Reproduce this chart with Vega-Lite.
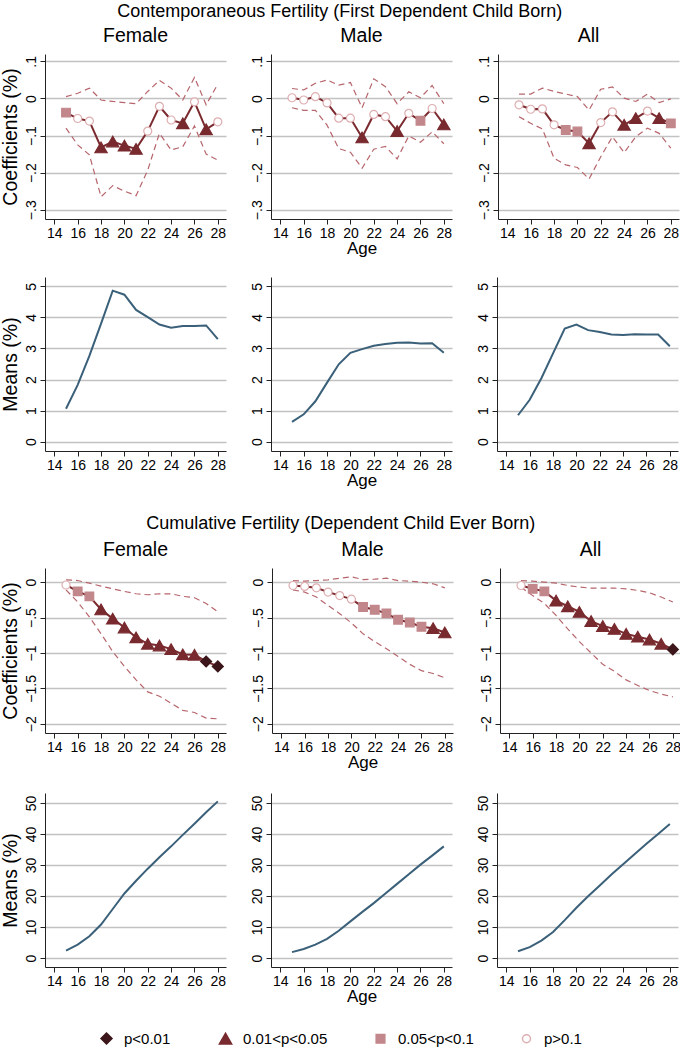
{
  "$schema": "https://vega.github.io/schema/vega-lite/v6.json",
  "padding": {"left": 0, "top": 2, "right": 0, "bottom": 0},
  "datasets": {
    "coef": [
      {"s":"c","g":"F","a":15,"b":-0.038,"lo":-0.080,"hi":0.005,"p":"0.05<p<0.1"},
      {"s":"c","g":"F","a":16,"b":-0.054,"lo":-0.125,"hi":0.014,"p":"p>0.1"},
      {"s":"c","g":"F","a":17,"b":-0.061,"lo":-0.152,"hi":0.028,"p":"p>0.1"},
      {"s":"c","g":"F","a":18,"b":-0.132,"lo":-0.265,"hi":-0.004,"p":"0.01<p<0.05"},
      {"s":"c","g":"F","a":19,"b":-0.116,"lo":-0.235,"hi":-0.008,"p":"0.01<p<0.05"},
      {"s":"c","g":"F","a":20,"b":-0.127,"lo":-0.250,"hi":-0.011,"p":"0.01<p<0.05"},
      {"s":"c","g":"F","a":21,"b":-0.136,"lo":-0.262,"hi":-0.014,"p":"0.01<p<0.05"},
      {"s":"c","g":"F","a":22,"b":-0.088,"lo":-0.193,"hi":0.019,"p":"p>0.1"},
      {"s":"c","g":"F","a":23,"b":-0.021,"lo":-0.094,"hi":0.049,"p":"p>0.1"},
      {"s":"c","g":"F","a":24,"b":-0.058,"lo":-0.139,"hi":0.028,"p":"p>0.1"},
      {"s":"c","g":"F","a":25,"b":-0.067,"lo":-0.130,"hi":-0.004,"p":"0.01<p<0.05"},
      {"s":"c","g":"F","a":26,"b":-0.009,"lo":-0.074,"hi":0.057,"p":"p>0.1"},
      {"s":"c","g":"F","a":27,"b":-0.083,"lo":-0.150,"hi":-0.017,"p":"0.01<p<0.05"},
      {"s":"c","g":"F","a":28,"b":-0.063,"lo":-0.166,"hi":0.039,"p":"p>0.1"},
      {"s":"c","g":"M","a":15,"b":0.002,"lo":-0.025,"hi":0.027,"p":"p>0.1"},
      {"s":"c","g":"M","a":16,"b":-0.004,"lo":-0.032,"hi":0.023,"p":"p>0.1"},
      {"s":"c","g":"M","a":17,"b":0.005,"lo":-0.032,"hi":0.041,"p":"p>0.1"},
      {"s":"c","g":"M","a":18,"b":-0.012,"lo":-0.072,"hi":0.050,"p":"p>0.1"},
      {"s":"c","g":"M","a":19,"b":-0.053,"lo":-0.135,"hi":0.036,"p":"p>0.1"},
      {"s":"c","g":"M","a":20,"b":-0.053,"lo":-0.145,"hi":0.043,"p":"p>0.1"},
      {"s":"c","g":"M","a":21,"b":-0.105,"lo":-0.188,"hi":-0.025,"p":"0.01<p<0.05"},
      {"s":"c","g":"M","a":22,"b":-0.043,"lo":-0.137,"hi":0.053,"p":"p>0.1"},
      {"s":"c","g":"M","a":23,"b":-0.049,"lo":-0.129,"hi":0.032,"p":"p>0.1"},
      {"s":"c","g":"M","a":24,"b":-0.088,"lo":-0.163,"hi":-0.014,"p":"0.01<p<0.05"},
      {"s":"c","g":"M","a":25,"b":-0.040,"lo":-0.101,"hi":0.018,"p":"p>0.1"},
      {"s":"c","g":"M","a":26,"b":-0.060,"lo":-0.118,"hi":0.002,"p":"0.05<p<0.1"},
      {"s":"c","g":"M","a":27,"b":-0.027,"lo":-0.090,"hi":0.035,"p":"p>0.1"},
      {"s":"c","g":"M","a":28,"b":-0.070,"lo":-0.122,"hi":-0.014,"p":"0.01<p<0.05"},
      {"s":"c","g":"A","a":15,"b":-0.017,"lo":-0.049,"hi":0.012,"p":"p>0.1"},
      {"s":"c","g":"A","a":16,"b":-0.029,"lo":-0.067,"hi":0.012,"p":"p>0.1"},
      {"s":"c","g":"A","a":17,"b":-0.028,"lo":-0.082,"hi":0.028,"p":"p>0.1"},
      {"s":"c","g":"A","a":18,"b":-0.071,"lo":-0.161,"hi":0.019,"p":"p>0.1"},
      {"s":"c","g":"A","a":19,"b":-0.085,"lo":-0.179,"hi":0.012,"p":"0.05<p<0.1"},
      {"s":"c","g":"A","a":20,"b":-0.089,"lo":-0.186,"hi":0.005,"p":"0.05<p<0.1"},
      {"s":"c","g":"A","a":21,"b":-0.121,"lo":-0.217,"hi":-0.031,"p":"0.01<p<0.05"},
      {"s":"c","g":"A","a":22,"b":-0.065,"lo":-0.157,"hi":0.025,"p":"p>0.1"},
      {"s":"c","g":"A","a":23,"b":-0.036,"lo":-0.103,"hi":0.031,"p":"p>0.1"},
      {"s":"c","g":"A","a":24,"b":-0.071,"lo":-0.146,"hi":0.001,"p":"0.01<p<0.05"},
      {"s":"c","g":"A","a":25,"b":-0.053,"lo":-0.103,"hi":-0.008,"p":"0.01<p<0.05"},
      {"s":"c","g":"A","a":26,"b":-0.034,"lo":-0.080,"hi":0.012,"p":"p>0.1"},
      {"s":"c","g":"A","a":27,"b":-0.053,"lo":-0.094,"hi":-0.011,"p":"0.01<p<0.05"},
      {"s":"c","g":"A","a":28,"b":-0.067,"lo":-0.134,"hi":-0.001,"p":"0.05<p<0.1"},
      {"s":"k","g":"F","a":15,"b":-0.04,"lo":-0.11,"hi":0.033,"p":"p>0.1"},
      {"s":"k","g":"F","a":16,"b":-0.13,"lo":-0.28,"hi":0.023,"p":"0.05<p<0.1"},
      {"s":"k","g":"F","a":17,"b":-0.20,"lo":-0.49,"hi":-0.014,"p":"0.05<p<0.1"},
      {"s":"k","g":"F","a":18,"b":-0.385,"lo":-0.73,"hi":-0.056,"p":"0.01<p<0.05"},
      {"s":"k","g":"F","a":19,"b":-0.515,"lo":-0.98,"hi":-0.094,"p":"0.01<p<0.05"},
      {"s":"k","g":"F","a":20,"b":-0.64,"lo":-1.19,"hi":-0.131,"p":"0.01<p<0.05"},
      {"s":"k","g":"F","a":21,"b":-0.78,"lo":-1.38,"hi":-0.164,"p":"0.01<p<0.05"},
      {"s":"k","g":"F","a":22,"b":-0.87,"lo":-1.55,"hi":-0.178,"p":"0.01<p<0.05"},
      {"s":"k","g":"F","a":23,"b":-0.895,"lo":-1.61,"hi":-0.164,"p":"0.01<p<0.05"},
      {"s":"k","g":"F","a":24,"b":-0.946,"lo":-1.71,"hi":-0.164,"p":"0.01<p<0.05"},
      {"s":"k","g":"F","a":25,"b":-1.02,"lo":-1.81,"hi":-0.20,"p":"0.01<p<0.05"},
      {"s":"k","g":"F","a":26,"b":-1.025,"lo":-1.84,"hi":-0.22,"p":"0.01<p<0.05"},
      {"s":"k","g":"F","a":27,"b":-1.12,"lo":-1.92,"hi":-0.30,"p":"p<0.01"},
      {"s":"k","g":"F","a":28,"b":-1.19,"lo":-1.93,"hi":-0.42,"p":"p<0.01"},
      {"s":"k","g":"M","a":15,"b":-0.047,"lo":-0.11,"hi":0.023,"p":"p>0.1"},
      {"s":"k","g":"M","a":16,"b":-0.06,"lo":-0.14,"hi":0.014,"p":"p>0.1"},
      {"s":"k","g":"M","a":17,"b":-0.08,"lo":-0.21,"hi":0.023,"p":"p>0.1"},
      {"s":"k","g":"M","a":18,"b":-0.14,"lo":-0.33,"hi":0.033,"p":"p>0.1"},
      {"s":"k","g":"M","a":19,"b":-0.19,"lo":-0.445,"hi":0.056,"p":"p>0.1"},
      {"s":"k","g":"M","a":20,"b":-0.24,"lo":-0.576,"hi":0.075,"p":"p>0.1"},
      {"s":"k","g":"M","a":21,"b":-0.35,"lo":-0.73,"hi":0.037,"p":"0.05<p<0.1"},
      {"s":"k","g":"M","a":22,"b":-0.39,"lo":-0.84,"hi":0.042,"p":"0.05<p<0.1"},
      {"s":"k","g":"M","a":23,"b":-0.44,"lo":-0.94,"hi":0.056,"p":"0.05<p<0.1"},
      {"s":"k","g":"M","a":24,"b":-0.53,"lo":-1.05,"hi":0.023,"p":"0.05<p<0.1"},
      {"s":"k","g":"M","a":25,"b":-0.57,"lo":-1.16,"hi":0.014,"p":"0.05<p<0.1"},
      {"s":"k","g":"M","a":26,"b":-0.63,"lo":-1.25,"hi":0.0,"p":"0.05<p<0.1"},
      {"s":"k","g":"M","a":27,"b":-0.65,"lo":-1.29,"hi":-0.023,"p":"0.01<p<0.05"},
      {"s":"k","g":"M","a":28,"b":-0.71,"lo":-1.35,"hi":-0.08,"p":"0.01<p<0.05"},
      {"s":"k","g":"A","a":15,"b":-0.047,"lo":-0.07,"hi":0.023,"p":"p>0.1"},
      {"s":"k","g":"A","a":16,"b":-0.094,"lo":-0.19,"hi":0.014,"p":"0.05<p<0.1"},
      {"s":"k","g":"A","a":17,"b":-0.13,"lo":-0.30,"hi":0.0,"p":"0.05<p<0.1"},
      {"s":"k","g":"A","a":18,"b":-0.26,"lo":-0.47,"hi":-0.014,"p":"0.01<p<0.05"},
      {"s":"k","g":"A","a":19,"b":-0.34,"lo":-0.66,"hi":-0.047,"p":"0.01<p<0.05"},
      {"s":"k","g":"A","a":20,"b":-0.42,"lo":-0.84,"hi":-0.07,"p":"0.01<p<0.05"},
      {"s":"k","g":"A","a":21,"b":-0.55,"lo":-1.0,"hi":-0.084,"p":"0.01<p<0.05"},
      {"s":"k","g":"A","a":22,"b":-0.62,"lo":-1.16,"hi":-0.084,"p":"0.01<p<0.05"},
      {"s":"k","g":"A","a":23,"b":-0.66,"lo":-1.26,"hi":-0.084,"p":"0.01<p<0.05"},
      {"s":"k","g":"A","a":24,"b":-0.73,"lo":-1.38,"hi":-0.094,"p":"0.01<p<0.05"},
      {"s":"k","g":"A","a":25,"b":-0.77,"lo":-1.46,"hi":-0.117,"p":"0.01<p<0.05"},
      {"s":"k","g":"A","a":26,"b":-0.81,"lo":-1.53,"hi":-0.15,"p":"0.01<p<0.05"},
      {"s":"k","g":"A","a":27,"b":-0.87,"lo":-1.58,"hi":-0.21,"p":"0.01<p<0.05"},
      {"s":"k","g":"A","a":28,"b":-0.95,"lo":-1.62,"hi":-0.28,"p":"p<0.01"}
    ],
    "means": [
      {"s":"c","g":"F","a":15,"m":1.06},{"s":"c","g":"F","a":16,"m":1.83},{"s":"c","g":"F","a":17,"m":2.76},{"s":"c","g":"F","a":18,"m":3.80},{"s":"c","g":"F","a":19,"m":4.86},{"s":"c","g":"F","a":20,"m":4.73},{"s":"c","g":"F","a":21,"m":4.24},{"s":"c","g":"F","a":22,"m":4.01},{"s":"c","g":"F","a":23,"m":3.77},{"s":"c","g":"F","a":24,"m":3.67},{"s":"c","g":"F","a":25,"m":3.72},{"s":"c","g":"F","a":26,"m":3.72},{"s":"c","g":"F","a":27,"m":3.74},{"s":"c","g":"F","a":28,"m":3.30},
      {"s":"c","g":"M","a":15,"m":0.64},{"s":"c","g":"M","a":16,"m":0.88},{"s":"c","g":"M","a":17,"m":1.30},{"s":"c","g":"M","a":18,"m":1.90},{"s":"c","g":"M","a":19,"m":2.49},{"s":"c","g":"M","a":20,"m":2.86},{"s":"c","g":"M","a":21,"m":2.98},{"s":"c","g":"M","a":22,"m":3.09},{"s":"c","g":"M","a":23,"m":3.14},{"s":"c","g":"M","a":24,"m":3.18},{"s":"c","g":"M","a":25,"m":3.19},{"s":"c","g":"M","a":26,"m":3.16},{"s":"c","g":"M","a":27,"m":3.17},{"s":"c","g":"M","a":28,"m":2.86},
      {"s":"c","g":"A","a":15,"m":0.85},{"s":"c","g":"A","a":16,"m":1.35},{"s":"c","g":"A","a":17,"m":2.04},{"s":"c","g":"A","a":18,"m":2.84},{"s":"c","g":"A","a":19,"m":3.64},{"s":"c","g":"A","a":20,"m":3.77},{"s":"c","g":"A","a":21,"m":3.59},{"s":"c","g":"A","a":22,"m":3.53},{"s":"c","g":"A","a":23,"m":3.45},{"s":"c","g":"A","a":24,"m":3.43},{"s":"c","g":"A","a":25,"m":3.46},{"s":"c","g":"A","a":26,"m":3.45},{"s":"c","g":"A","a":27,"m":3.45},{"s":"c","g":"A","a":28,"m":3.07},
      {"s":"k","g":"F","a":15,"m":2.4},{"s":"k","g":"F","a":16,"m":4.3},{"s":"k","g":"F","a":17,"m":7.0},{"s":"k","g":"F","a":18,"m":10.8},{"s":"k","g":"F","a":19,"m":15.8},{"s":"k","g":"F","a":20,"m":20.8},{"s":"k","g":"F","a":21,"m":24.9},{"s":"k","g":"F","a":22,"m":28.8},{"s":"k","g":"F","a":23,"m":32.5},{"s":"k","g":"F","a":24,"m":36.0},{"s":"k","g":"F","a":25,"m":39.7},{"s":"k","g":"F","a":26,"m":43.3},{"s":"k","g":"F","a":27,"m":47.0},{"s":"k","g":"F","a":28,"m":50.5},
      {"s":"k","g":"M","a":15,"m":1.9},{"s":"k","g":"M","a":16,"m":2.9},{"s":"k","g":"M","a":17,"m":4.3},{"s":"k","g":"M","a":18,"m":6.2},{"s":"k","g":"M","a":19,"m":8.8},{"s":"k","g":"M","a":20,"m":11.8},{"s":"k","g":"M","a":21,"m":14.8},{"s":"k","g":"M","a":22,"m":17.7},{"s":"k","g":"M","a":23,"m":20.8},{"s":"k","g":"M","a":24,"m":23.9},{"s":"k","g":"M","a":25,"m":27.0},{"s":"k","g":"M","a":26,"m":30.1},{"s":"k","g":"M","a":27,"m":33.0},{"s":"k","g":"M","a":28,"m":36.0},
      {"s":"k","g":"A","a":15,"m":2.2},{"s":"k","g":"A","a":16,"m":3.5},{"s":"k","g":"A","a":17,"m":5.6},{"s":"k","g":"A","a":18,"m":8.4},{"s":"k","g":"A","a":19,"m":12.2},{"s":"k","g":"A","a":20,"m":16.2},{"s":"k","g":"A","a":21,"m":19.9},{"s":"k","g":"A","a":22,"m":23.4},{"s":"k","g":"A","a":23,"m":26.9},{"s":"k","g":"A","a":24,"m":30.2},{"s":"k","g":"A","a":25,"m":33.5},{"s":"k","g":"A","a":26,"m":36.8},{"s":"k","g":"A","a":27,"m":40.0},{"s":"k","g":"A","a":28,"m":43.2}
    ]
  },
  "vconcat": [
    {
      "title": {"text": "Contemporaneous Fertility (First Dependent Child Born)", "fontSize": 18, "offset": 5},
      "spacing": 21,
      "vconcat": [
        {
          "spacing": 24,
          "hconcat": [
            {
              "width": 181, "height": 165, "title": "Female",
              "data": {"name": "coef"},
              "transform": [{"filter": "datum.s=='c'&&datum.g=='F'"}],
              "encoding": {"x": {"field": "a", "type": "quantitative", "title": null, "scale": {"domain": [13.2, 28.7], "nice": false, "zero": false}}},
              "layer": [
                {"mark": {"type": "line", "color": "#b6666c", "strokeWidth": 1.2, "strokeDash": [6, 4]}, "encoding": {"y": {"field": "lo", "type": "quantitative", "title": "Coefficients (%)", "scale": {"domain": [-0.325, 0.12], "nice": false, "zero": false}, "axis": {"values": [-0.3, -0.2, -0.1, 0, 0.1], "labelExpr": "replace(format(datum.value,'~g'),'0.','.')"}}}},
                {"mark": {"type": "line", "color": "#b6666c", "strokeWidth": 1.2, "strokeDash": [6, 4]}, "encoding": {"y": {"field": "hi", "type": "quantitative", "title": "Coefficients (%)"}}},
                {"mark": {"type": "line", "color": "#7b2a2f", "strokeWidth": 2}, "encoding": {"y": {"field": "b", "type": "quantitative", "title": "Coefficients (%)"}}},
                {"mark": {"type": "point", "opacity": 1, "strokeWidth": 1.2}, "encoding": {
                  "y": {"field": "b", "type": "quantitative", "title": "Coefficients (%)"},
                  "shape": {"field": "p", "type": "ordinal", "title": null, "scale": {"domain": ["p<0.01","0.01<p<0.05","0.05<p<0.1","p>0.1"], "range": ["diamond","triangle-up","square","circle"]}},
                  "fill": {"field": "p", "type": "ordinal", "title": null, "scale": {"domain": ["p<0.01","0.01<p<0.05","0.05<p<0.1","p>0.1"], "range": ["#3c161a","#782a2e","#c2878b","#ffffff"]}},
                  "stroke": {"field": "p", "type": "ordinal", "title": null, "scale": {"domain": ["p<0.01","0.01<p<0.05","0.05<p<0.1","p>0.1"], "range": ["#3c161a","#782a2e","#c2878b","#deaeb1"]}},
                  "size": {"field": "p", "type": "ordinal", "title": null, "scale": {"type": "ordinal", "domain": ["p<0.01","0.01<p<0.05","0.05<p<0.1","p>0.1"], "range": [121, 150, 75, 64]}}
                }}
              ]
            },
            {
              "width": 181, "height": 165, "title": "Male",
              "data": {"name": "coef"},
              "transform": [{"filter": "datum.s=='c'&&datum.g=='M'"}],
              "encoding": {"x": {"field": "a", "type": "quantitative", "title": "Age", "scale": {"domain": [13.2, 28.7], "nice": false, "zero": false}}},
              "layer": [
                {"mark": {"type": "line", "color": "#b6666c", "strokeWidth": 1.2, "strokeDash": [6, 4]}, "encoding": {"y": {"field": "lo", "type": "quantitative", "title": null, "scale": {"domain": [-0.325, 0.12], "nice": false, "zero": false}, "axis": {"values": [-0.3, -0.2, -0.1, 0, 0.1], "labelExpr": "replace(format(datum.value,'~g'),'0.','.')"}}}},
                {"mark": {"type": "line", "color": "#b6666c", "strokeWidth": 1.2, "strokeDash": [6, 4]}, "encoding": {"y": {"field": "hi", "type": "quantitative", "title": null}}},
                {"mark": {"type": "line", "color": "#7b2a2f", "strokeWidth": 2}, "encoding": {"y": {"field": "b", "type": "quantitative", "title": null}}},
                {"mark": {"type": "point", "opacity": 1, "strokeWidth": 1.2}, "encoding": {
                  "y": {"field": "b", "type": "quantitative", "title": null},
                  "shape": {"field": "p", "type": "ordinal", "title": null, "scale": {"domain": ["p<0.01","0.01<p<0.05","0.05<p<0.1","p>0.1"], "range": ["diamond","triangle-up","square","circle"]}},
                  "fill": {"field": "p", "type": "ordinal", "title": null, "scale": {"domain": ["p<0.01","0.01<p<0.05","0.05<p<0.1","p>0.1"], "range": ["#3c161a","#782a2e","#c2878b","#ffffff"]}},
                  "stroke": {"field": "p", "type": "ordinal", "title": null, "scale": {"domain": ["p<0.01","0.01<p<0.05","0.05<p<0.1","p>0.1"], "range": ["#3c161a","#782a2e","#c2878b","#deaeb1"]}},
                  "size": {"field": "p", "type": "ordinal", "title": null, "scale": {"type": "ordinal", "domain": ["p<0.01","0.01<p<0.05","0.05<p<0.1","p>0.1"], "range": [121, 150, 75, 64]}}
                }}
              ]
            },
            {
              "width": 181, "height": 165, "title": "All",
              "data": {"name": "coef"},
              "transform": [{"filter": "datum.s=='c'&&datum.g=='A'"}],
              "encoding": {"x": {"field": "a", "type": "quantitative", "title": null, "scale": {"domain": [13.2, 28.7], "nice": false, "zero": false}}},
              "layer": [
                {"mark": {"type": "line", "color": "#b6666c", "strokeWidth": 1.2, "strokeDash": [6, 4]}, "encoding": {"y": {"field": "lo", "type": "quantitative", "title": null, "scale": {"domain": [-0.325, 0.12], "nice": false, "zero": false}, "axis": {"values": [-0.3, -0.2, -0.1, 0, 0.1], "labelExpr": "replace(format(datum.value,'~g'),'0.','.')"}}}},
                {"mark": {"type": "line", "color": "#b6666c", "strokeWidth": 1.2, "strokeDash": [6, 4]}, "encoding": {"y": {"field": "hi", "type": "quantitative", "title": null}}},
                {"mark": {"type": "line", "color": "#7b2a2f", "strokeWidth": 2}, "encoding": {"y": {"field": "b", "type": "quantitative", "title": null}}},
                {"mark": {"type": "point", "opacity": 1, "strokeWidth": 1.2}, "encoding": {
                  "y": {"field": "b", "type": "quantitative", "title": null},
                  "shape": {"field": "p", "type": "ordinal", "title": null, "scale": {"domain": ["p<0.01","0.01<p<0.05","0.05<p<0.1","p>0.1"], "range": ["diamond","triangle-up","square","circle"]}},
                  "fill": {"field": "p", "type": "ordinal", "title": null, "scale": {"domain": ["p<0.01","0.01<p<0.05","0.05<p<0.1","p>0.1"], "range": ["#3c161a","#782a2e","#c2878b","#ffffff"]}},
                  "stroke": {"field": "p", "type": "ordinal", "title": null, "scale": {"domain": ["p<0.01","0.01<p<0.05","0.05<p<0.1","p>0.1"], "range": ["#3c161a","#782a2e","#c2878b","#deaeb1"]}},
                  "size": {"field": "p", "type": "ordinal", "title": null, "scale": {"type": "ordinal", "domain": ["p<0.01","0.01<p<0.05","0.05<p<0.1","p>0.1"], "range": [121, 150, 75, 64]}}
                }}
              ]
            }
          ]
        },
        {
          "spacing": 24,
          "hconcat": [
            {
              "width": 181, "height": 174,
              "data": {"name": "means"},
              "transform": [{"filter": "datum.s=='c'&&datum.g=='F'"}],
              "mark": {"type": "line", "color": "#3b6079", "strokeWidth": 2},
              "encoding": {
                "x": {"field": "a", "type": "quantitative", "title": null, "scale": {"domain": [13.2, 28.7], "nice": false, "zero": false}},
                "y": {"field": "m", "type": "quantitative", "title": "Means (%)", "scale": {"domain": [-0.3, 5.3], "nice": false, "zero": false}, "axis": {"values": [0, 1, 2, 3, 4, 5]}}
              }
            },
            {
              "width": 181, "height": 174,
              "data": {"name": "means"},
              "transform": [{"filter": "datum.s=='c'&&datum.g=='M'"}],
              "mark": {"type": "line", "color": "#3b6079", "strokeWidth": 2},
              "encoding": {
                "x": {"field": "a", "type": "quantitative", "title": "Age", "scale": {"domain": [13.2, 28.7], "nice": false, "zero": false}},
                "y": {"field": "m", "type": "quantitative", "title": null, "scale": {"domain": [-0.3, 5.3], "nice": false, "zero": false}, "axis": {"values": [0, 1, 2, 3, 4, 5]}}
              }
            },
            {
              "width": 181, "height": 174,
              "data": {"name": "means"},
              "transform": [{"filter": "datum.s=='c'&&datum.g=='A'"}],
              "mark": {"type": "line", "color": "#3b6079", "strokeWidth": 2},
              "encoding": {
                "x": {"field": "a", "type": "quantitative", "title": null, "scale": {"domain": [13.2, 28.7], "nice": false, "zero": false}},
                "y": {"field": "m", "type": "quantitative", "title": null, "scale": {"domain": [-0.3, 5.3], "nice": false, "zero": false}, "axis": {"values": [0, 1, 2, 3, 4, 5]}}
              }
            }
          ]
        }
      ]
    },
    {
      "title": {"text": "Cumulative Fertility (Dependent Child Ever Born)", "fontSize": 18, "offset": 7},
      "spacing": 23,
      "vconcat": [
        {
          "spacing": 24,
          "hconcat": [
            {
              "width": 181, "height": 165, "title": "Female",
              "data": {"name": "coef"},
              "transform": [{"filter": "datum.s=='k'&&datum.g=='F'"}],
              "encoding": {"x": {"field": "a", "type": "quantitative", "title": null, "scale": {"domain": [13.2, 28.7], "nice": false, "zero": false}}},
              "layer": [
                {"mark": {"type": "line", "color": "#b6666c", "strokeWidth": 1.2, "strokeDash": [6, 4]}, "encoding": {"y": {"field": "lo", "type": "quantitative", "title": "Coefficients (%)", "scale": {"domain": [-2.13, 0.2], "nice": false, "zero": false}, "axis": {"values": [-2, -1.5, -1, -0.5, 0], "labelExpr": "replace(format(datum.value,'~g'),'0.','.')"}}}},
                {"mark": {"type": "line", "color": "#b6666c", "strokeWidth": 1.2, "strokeDash": [6, 4]}, "encoding": {"y": {"field": "hi", "type": "quantitative", "title": "Coefficients (%)"}}},
                {"mark": {"type": "line", "color": "#7b2a2f", "strokeWidth": 2}, "encoding": {"y": {"field": "b", "type": "quantitative", "title": "Coefficients (%)"}}},
                {"mark": {"type": "point", "opacity": 1, "strokeWidth": 1.2}, "encoding": {
                  "y": {"field": "b", "type": "quantitative", "title": "Coefficients (%)"},
                  "shape": {"field": "p", "type": "ordinal", "title": null, "scale": {"domain": ["p<0.01","0.01<p<0.05","0.05<p<0.1","p>0.1"], "range": ["diamond","triangle-up","square","circle"]}},
                  "fill": {"field": "p", "type": "ordinal", "title": null, "scale": {"domain": ["p<0.01","0.01<p<0.05","0.05<p<0.1","p>0.1"], "range": ["#3c161a","#782a2e","#c2878b","#ffffff"]}},
                  "stroke": {"field": "p", "type": "ordinal", "title": null, "scale": {"domain": ["p<0.01","0.01<p<0.05","0.05<p<0.1","p>0.1"], "range": ["#3c161a","#782a2e","#c2878b","#deaeb1"]}},
                  "size": {"field": "p", "type": "ordinal", "title": null, "scale": {"type": "ordinal", "domain": ["p<0.01","0.01<p<0.05","0.05<p<0.1","p>0.1"], "range": [121, 150, 75, 64]}}
                }}
              ]
            },
            {
              "width": 181, "height": 165, "title": "Male",
              "data": {"name": "coef"},
              "transform": [{"filter": "datum.s=='k'&&datum.g=='M'"}],
              "encoding": {"x": {"field": "a", "type": "quantitative", "title": "Age", "scale": {"domain": [13.2, 28.7], "nice": false, "zero": false}}},
              "layer": [
                {"mark": {"type": "line", "color": "#b6666c", "strokeWidth": 1.2, "strokeDash": [6, 4]}, "encoding": {"y": {"field": "lo", "type": "quantitative", "title": null, "scale": {"domain": [-2.13, 0.2], "nice": false, "zero": false}, "axis": {"values": [-2, -1.5, -1, -0.5, 0], "labelExpr": "replace(format(datum.value,'~g'),'0.','.')"}}}},
                {"mark": {"type": "line", "color": "#b6666c", "strokeWidth": 1.2, "strokeDash": [6, 4]}, "encoding": {"y": {"field": "hi", "type": "quantitative", "title": null}}},
                {"mark": {"type": "line", "color": "#7b2a2f", "strokeWidth": 2}, "encoding": {"y": {"field": "b", "type": "quantitative", "title": null}}},
                {"mark": {"type": "point", "opacity": 1, "strokeWidth": 1.2}, "encoding": {
                  "y": {"field": "b", "type": "quantitative", "title": null},
                  "shape": {"field": "p", "type": "ordinal", "title": null, "scale": {"domain": ["p<0.01","0.01<p<0.05","0.05<p<0.1","p>0.1"], "range": ["diamond","triangle-up","square","circle"]}},
                  "fill": {"field": "p", "type": "ordinal", "title": null, "scale": {"domain": ["p<0.01","0.01<p<0.05","0.05<p<0.1","p>0.1"], "range": ["#3c161a","#782a2e","#c2878b","#ffffff"]}},
                  "stroke": {"field": "p", "type": "ordinal", "title": null, "scale": {"domain": ["p<0.01","0.01<p<0.05","0.05<p<0.1","p>0.1"], "range": ["#3c161a","#782a2e","#c2878b","#deaeb1"]}},
                  "size": {"field": "p", "type": "ordinal", "title": null, "scale": {"type": "ordinal", "domain": ["p<0.01","0.01<p<0.05","0.05<p<0.1","p>0.1"], "range": [121, 150, 75, 64]}}
                }}
              ]
            },
            {
              "width": 181, "height": 165, "title": "All",
              "data": {"name": "coef"},
              "transform": [{"filter": "datum.s=='k'&&datum.g=='A'"}],
              "encoding": {"x": {"field": "a", "type": "quantitative", "title": null, "scale": {"domain": [13.2, 28.7], "nice": false, "zero": false}}},
              "layer": [
                {"mark": {"type": "line", "color": "#b6666c", "strokeWidth": 1.2, "strokeDash": [6, 4]}, "encoding": {"y": {"field": "lo", "type": "quantitative", "title": null, "scale": {"domain": [-2.13, 0.2], "nice": false, "zero": false}, "axis": {"values": [-2, -1.5, -1, -0.5, 0], "labelExpr": "replace(format(datum.value,'~g'),'0.','.')"}}}},
                {"mark": {"type": "line", "color": "#b6666c", "strokeWidth": 1.2, "strokeDash": [6, 4]}, "encoding": {"y": {"field": "hi", "type": "quantitative", "title": null}}},
                {"mark": {"type": "line", "color": "#7b2a2f", "strokeWidth": 2}, "encoding": {"y": {"field": "b", "type": "quantitative", "title": null}}},
                {"mark": {"type": "point", "opacity": 1, "strokeWidth": 1.2}, "encoding": {
                  "y": {"field": "b", "type": "quantitative", "title": null},
                  "shape": {"field": "p", "type": "ordinal", "title": null, "scale": {"domain": ["p<0.01","0.01<p<0.05","0.05<p<0.1","p>0.1"], "range": ["diamond","triangle-up","square","circle"]}},
                  "fill": {"field": "p", "type": "ordinal", "title": null, "scale": {"domain": ["p<0.01","0.01<p<0.05","0.05<p<0.1","p>0.1"], "range": ["#3c161a","#782a2e","#c2878b","#ffffff"]}},
                  "stroke": {"field": "p", "type": "ordinal", "title": null, "scale": {"domain": ["p<0.01","0.01<p<0.05","0.05<p<0.1","p>0.1"], "range": ["#3c161a","#782a2e","#c2878b","#deaeb1"]}},
                  "size": {"field": "p", "type": "ordinal", "title": null, "scale": {"type": "ordinal", "domain": ["p<0.01","0.01<p<0.05","0.05<p<0.1","p>0.1"], "range": [121, 150, 75, 64]}}
                }}
              ]
            }
          ]
        },
        {
          "spacing": 24,
          "hconcat": [
            {
              "width": 181, "height": 174,
              "data": {"name": "means"},
              "transform": [{"filter": "datum.s=='k'&&datum.g=='F'"}],
              "mark": {"type": "line", "color": "#3b6079", "strokeWidth": 2},
              "encoding": {
                "x": {"field": "a", "type": "quantitative", "title": null, "scale": {"domain": [13.2, 28.7], "nice": false, "zero": false}},
                "y": {"field": "m", "type": "quantitative", "title": "Means (%)", "scale": {"domain": [-2.9, 53.2], "nice": false, "zero": false}, "axis": {"values": [0, 10, 20, 30, 40, 50]}}
              }
            },
            {
              "width": 181, "height": 174,
              "data": {"name": "means"},
              "transform": [{"filter": "datum.s=='k'&&datum.g=='M'"}],
              "mark": {"type": "line", "color": "#3b6079", "strokeWidth": 2},
              "encoding": {
                "x": {"field": "a", "type": "quantitative", "title": "Age", "scale": {"domain": [13.2, 28.7], "nice": false, "zero": false}},
                "y": {"field": "m", "type": "quantitative", "title": null, "scale": {"domain": [-2.9, 53.2], "nice": false, "zero": false}, "axis": {"values": [0, 10, 20, 30, 40, 50]}}
              }
            },
            {
              "width": 181, "height": 174,
              "data": {"name": "means"},
              "transform": [{"filter": "datum.s=='k'&&datum.g=='A'"}],
              "mark": {"type": "line", "color": "#3b6079", "strokeWidth": 2},
              "encoding": {
                "x": {"field": "a", "type": "quantitative", "title": null, "scale": {"domain": [13.2, 28.7], "nice": false, "zero": false}},
                "y": {"field": "m", "type": "quantitative", "title": null, "scale": {"domain": [-2.9, 53.2], "nice": false, "zero": false}, "axis": {"values": [0, 10, 20, 30, 40, 50]}}
              }
            }
          ]
        }
      ]
    }
  ],
  "spacing": 26,
  "config": {
    "font": "Liberation Sans",
    "view": {"stroke": null},
    "axis": {"domainColor": "#222", "domainWidth": 1, "tickColor": "#222", "tickSize": 5, "labelFontSize": 14, "labelColor": "#000", "titleFontWeight": "normal", "titleColor": "#000", "labelPadding": 2, "gridColor": "#c2c2c2", "gridWidth": 1.3, "labelFont": "Liberation Sans", "titleFont": "Liberation Sans"},
    "axisX": {"grid": false, "values": [14, 16, 18, 20, 22, 24, 26, 28], "titleFontSize": 17, "titlePadding": 0, "labelFlush": false, "labelOverlap": false},
    "axisY": {"grid": true, "labelAngle": -90, "labelAlign": "center", "labelBaseline": "bottom", "titleFontSize": 19.5, "titlePadding": 3.5, "labelOverlap": false, "labelFlush": false},
    "title": {"font": "Liberation Sans", "fontSize": 19.5, "fontWeight": "normal", "color": "#000", "anchor": "middle", "offset": 8},
    "legend": {"orient": "bottom", "direction": "horizontal", "labelFont": "Liberation Sans", "labelFontSize": 15, "labelColor": "#000", "columnPadding": 45, "labelOffset": 10, "offset": 27, "layout": {"bottom": {"anchor": "middle"}}}
  }
}
